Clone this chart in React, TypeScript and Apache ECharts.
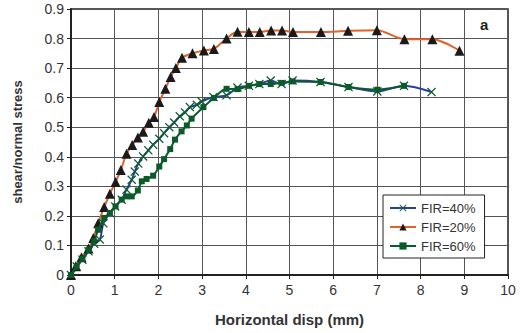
import React, { useEffect, useRef } from "react";
import * as echarts from "echarts";

const xTicks = [0, 1, 2, 3, 4, 5, 6, 7, 8, 9, 10];
const yTicks = [0, 0.1, 0.2, 0.3, 0.4, 0.5, 0.6, 0.7, 0.8, 0.9];

const fir40: [number, number][] = [
  [0, 0], [0.13, 0.029], [0.26, 0.052], [0.4, 0.08], [0.53, 0.106], [0.66, 0.12], [0.74, 0.175],
  [0.89, 0.21], [1.01, 0.232], [1.16, 0.255], [1.27, 0.289], [1.39, 0.322], [1.46, 0.35],
  [1.54, 0.377], [1.65, 0.401], [1.77, 0.422], [1.88, 0.441], [2.02, 0.461], [2.13, 0.48],
  [2.25, 0.5], [2.36, 0.516], [2.49, 0.537], [2.61, 0.55], [2.72, 0.568], [2.88, 0.576],
  [2.99, 0.587], [3.26, 0.602], [3.56, 0.608], [3.81, 0.634], [4.07, 0.64], [4.31, 0.646],
  [4.57, 0.658], [4.82, 0.646], [5.07, 0.658], [5.71, 0.653], [6.35, 0.636], [7.01, 0.621],
  [7.62, 0.64], [8.25, 0.619],
];

const fir20: [number, number][] = [
  [0, 0], [0.11, 0.03], [0.24, 0.06], [0.4, 0.09], [0.51, 0.125], [0.62, 0.175], [0.76, 0.23],
  [0.89, 0.275], [1.02, 0.315], [1.14, 0.355], [1.27, 0.41], [1.4, 0.44], [1.53, 0.465],
  [1.65, 0.485], [1.78, 0.515], [1.9, 0.535], [2.02, 0.585], [2.16, 0.63], [2.28, 0.67],
  [2.4, 0.7], [2.54, 0.735], [2.78, 0.75], [3.04, 0.76], [3.27, 0.765], [3.56, 0.8],
  [3.81, 0.823], [4.07, 0.822], [4.32, 0.822], [4.58, 0.827], [4.83, 0.827], [5.08, 0.822],
  [5.72, 0.822], [6.34, 0.826], [7.0, 0.828], [7.63, 0.798], [8.27, 0.798], [8.89, 0.759],
];

const fir60: [number, number][] = [
  [0, 0], [0.13, 0.029], [0.26, 0.055], [0.41, 0.086], [0.53, 0.114], [0.62, 0.153],
  [0.76, 0.193], [0.89, 0.21], [1.02, 0.232], [1.16, 0.255], [1.27, 0.266], [1.39, 0.266],
  [1.53, 0.286], [1.62, 0.317], [1.73, 0.325], [1.88, 0.336], [2.02, 0.367], [2.13, 0.392],
  [2.27, 0.426], [2.38, 0.458], [2.53, 0.486], [2.65, 0.506], [2.76, 0.529], [3.03, 0.568],
  [3.27, 0.599], [3.56, 0.63], [3.81, 0.629], [4.07, 0.64], [4.31, 0.646], [4.57, 0.646],
  [4.82, 0.65], [5.07, 0.655], [5.71, 0.653], [6.35, 0.636], [7.01, 0.627], [7.62, 0.64],
];

const seriesNames = ["FIR=40%", "FIR=20%", "FIR=60%"];

const X_SYMBOL =
  "path://M0,1L1,0L5,4L9,0L10,1L6,5L10,9L9,10L5,6L1,10L0,9L4,5Z";

const FONT = "Liberation Sans, Arial, sans-serif";

export default function App() {
  const ref = useRef<HTMLDivElement>(null);
  useEffect(() => {
    if (!ref.current) return;
    const chart = echarts.init(ref.current, undefined, { renderer: "svg" });
    chart.setOption({
      animation: false,
      backgroundColor: "#ffffff",
      grid: {
        left: 71,
        right: 19,
        top: 9,
        bottom: 58,
        show: true,
        borderColor: "#222",
        borderWidth: 1.5,
      },
      xAxis: {
        type: "value",
        min: xTicks[0],
        max: xTicks[xTicks.length - 1],
        interval: 1,
        name: "Horizontal disp (mm)",
        nameLocation: "middle",
        nameGap: 37,
        nameTextStyle: { fontFamily: FONT, fontSize: 15, fontWeight: "bold", color: "#333" },
        axisLine: { show: true, onZero: false, lineStyle: { color: "#222", width: 2 } },
        axisTick: { show: true, inside: false, length: 4, lineStyle: { color: "#222" } },
        axisLabel: { fontFamily: FONT, fontSize: 14, color: "#333", margin: 8 },
        splitLine: { show: true, lineStyle: { color: "#555", width: 1 } },
      },
      yAxis: {
        type: "value",
        min: yTicks[0],
        max: yTicks[yTicks.length - 1],
        interval: 0.1,
        name: "shear/normal stress",
        nameLocation: "middle",
        nameGap: 47,
        nameTextStyle: { fontFamily: FONT, fontSize: 13, fontWeight: "bold", color: "#333" },
        axisLine: { show: true, onZero: false, lineStyle: { color: "#222", width: 2 } },
        axisTick: { show: true, inside: false, length: 4, lineStyle: { color: "#222" } },
        axisLabel: {
          fontFamily: FONT,
          fontSize: 14,
          color: "#333",
          margin: 7,
          formatter: (v: number) => String(Math.round(v * 10) / 10),
        },
        splitLine: { show: true, lineStyle: { color: "#555", width: 1 } },
      },
      legend: {
        data: seriesNames,
        orient: "vertical",
        left: 383,
        top: 195,
        backgroundColor: "#fff",
        borderColor: "#222",
        borderWidth: 1,
        padding: [6, 9, 5, 6],
        itemGap: 5,
        itemWidth: 26,
        itemHeight: 9,
        textStyle: { fontFamily: FONT, fontSize: 13, color: "#333", lineHeight: 14 },
      },
      graphic: [
        {
          type: "text",
          left: 480,
          top: 17,
          style: { text: "a", font: `bold 15px ${FONT}`, fill: "#222" },
        },
      ],
      series: [
        {
          name: seriesNames[0],
          type: "line",
          data: fir40,
          smooth: 0.3,
          symbol: X_SYMBOL,
          symbolSize: 9,
          showAllSymbol: true,
          lineStyle: { color: "#2b3f9e", width: 2 },
          itemStyle: { color: "#0d5c2c" },
          z: 3,
        },
        {
          name: seriesNames[1],
          type: "line",
          data: fir20,
          smooth: 0.3,
          symbol: "triangle",
          symbolSize: 10,
          showAllSymbol: true,
          lineStyle: { color: "#e2622a", width: 2 },
          itemStyle: { color: "#1a1a1a" },
          z: 3,
        },
        {
          name: seriesNames[2],
          type: "line",
          data: fir60,
          smooth: 0.3,
          symbol: "rect",
          symbolSize: 6,
          showAllSymbol: true,
          lineStyle: { color: "#0b5a2a", width: 2 },
          itemStyle: { color: "#0b5a2a" },
          z: 4,
        },
      ],
    });
    return () => chart.dispose();
  }, []);
  return (
    <div
      ref={ref}
      style={{ position: "fixed", left: 0, top: 0, width: 527, height: 333 }}
    />
  );
}
